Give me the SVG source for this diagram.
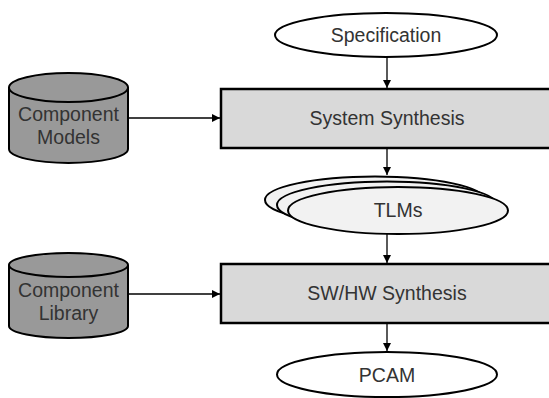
<svg xmlns="http://www.w3.org/2000/svg" width="549" height="398" viewBox="0 0 549 398">
<defs>
<style>
.t{font-family:"Liberation Sans",Arial,sans-serif;font-size:19.5px;fill:#333;text-anchor:middle;dominant-baseline:central}
.box{fill:#d9d9d9;stroke:#000;stroke-width:2.5}
.ell{fill:#fff;stroke:#000;stroke-width:2}
.cyl{fill:#999;stroke:#000;stroke-width:2}
.tlm{fill:#f2f2f2;stroke:#000;stroke-width:2}
.c{fill:none;stroke:#000;stroke-width:1.3}
</style>
<marker id="ah" viewBox="0 0 10 10" refX="10" refY="5" markerWidth="8" markerHeight="8" markerUnits="userSpaceOnUse" orient="auto">
<path d="M0,0 L10,5 L0,10 z" fill="#000"/>
</marker>
</defs>
<g id="connectors">
<line class="c" x1="387" y1="57" x2="387" y2="88" marker-end="url(#ah)"/>
<line class="c" x1="128" y1="118" x2="220" y2="118" marker-end="url(#ah)"/>
<line class="c" x1="387" y1="149" x2="387" y2="175" marker-end="url(#ah)"/>
<line class="c" x1="387" y1="234" x2="387" y2="263" marker-end="url(#ah)"/>
<line class="c" x1="128" y1="294" x2="220" y2="294" marker-end="url(#ah)"/>
<line class="c" x1="387" y1="324" x2="387" y2="351" marker-end="url(#ah)"/>
</g>
<g id="specification">
<ellipse class="ell" cx="386" cy="35" rx="111" ry="22"/>
<text class="t" x="386" y="35">Specification</text>
</g>
<g id="component-models">
<path class="cyl" d="M9,87.5 L9,149 A59.5,14 0 0 0 128,149 L128,87.5 A59.5,14.5 0 0 0 9,87.5 Z"/>
<path class="cyl" d="M9,87.5 A59.5,14.5 0 0 0 128,87.5" style="fill:none"/>
<text class="t" x="68.5" y="114">Component</text>
<text class="t" x="68.5" y="137">Models</text>
</g>
<g id="system-synthesis">
<rect class="box" x="221" y="89" width="340" height="59"/>
<text class="t" x="387" y="118">System Synthesis</text>
</g>
<g id="tlms">
<ellipse class="tlm" cx="375" cy="200" rx="110" ry="23.5"/>
<ellipse class="tlm" cx="387" cy="205" rx="110" ry="23.5"/>
<ellipse class="tlm" cx="398" cy="210.5" rx="110" ry="23.5"/>
<text class="t" x="398" y="210">TLMs</text>
</g>
<g id="component-library">
<path class="cyl" d="M9,265 L9,326 A59.5,12 0 0 0 128,326 L128,265 A59.5,12 0 0 0 9,265 Z"/>
<path class="cyl" d="M9,265 A59.5,12 0 0 0 128,265" style="fill:none"/>
<text class="t" x="68.5" y="290">Component</text>
<text class="t" x="68.5" y="313">Library</text>
</g>
<g id="swhw-synthesis">
<rect class="box" x="221" y="264" width="340" height="59"/>
<text class="t" x="387" y="293">SW/HW Synthesis</text>
</g>
<g id="pcam">
<ellipse class="ell" cx="387" cy="374.5" rx="110" ry="22.5"/>
<text class="t" x="387" y="375">PCAM</text>
</g>
</svg>
